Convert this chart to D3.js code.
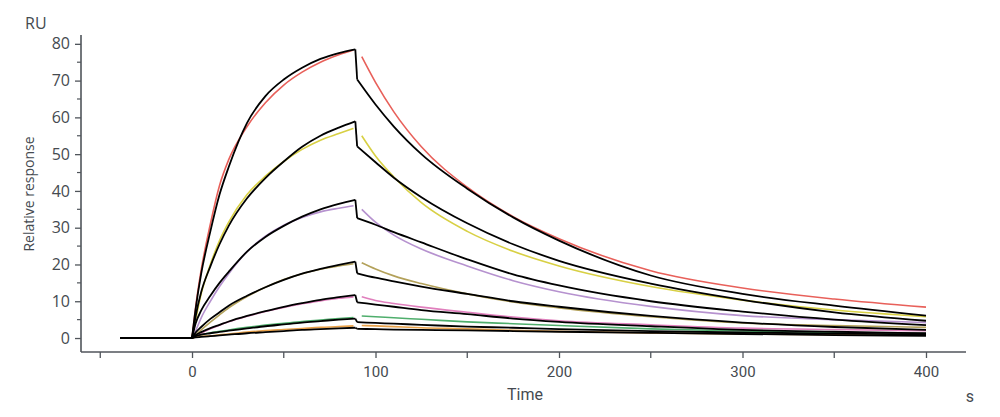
<!DOCTYPE html>
<html>
<head>
<meta charset="utf-8">
<script src="https://cdn.jsdelivr.net/npm/d3@7"></script>
<style>
  body { margin: 0; background: #fff; }
  svg { display: block; }
</style>
</head>
<body>
<svg id="chart" width="1000" height="417"></svg>
<script>
// time grids (s)
const tBase = [-39, 0];
const tFitAssoc = [0, 2, 5, 10, 15, 20, 30, 40, 50, 60, 70, 80, 89];
const tFitDiss = [90, 100, 110, 125, 150, 175, 200, 250, 300, 350, 400];
const tDataAssoc = [0, 2, 5, 10, 15, 20, 30, 40, 50, 60, 70, 80, 88];
const tDataDiss = [92.5, 100, 110, 125, 150, 175, 200, 250, 300, 350, 400];

// fitted curves (black), RU
const fit1Assoc = [0, 8, 17.5, 29, 39, 46.5, 58.5, 65.8, 70.3, 73.5, 75.9, 77.5, 78.5];
const fit1Diss = [70.3, 63.5, 57.5, 50, 40.6, 32.8, 26.5, 17, 12, 8.8, 6.1];
const fit2Assoc = [0, 6, 12.5, 19.5, 25.5, 30.5, 38, 43.5, 48, 52, 55, 57.2, 58.9];
const fit2Diss = [52.1, 47.8, 43.6, 38.3, 31.2, 25.5, 21, 14.8, 10.4, 7, 4.7];
const fit3Assoc = [0, 4, 7.5, 11.5, 15, 18, 23.5, 27.5, 30.5, 33, 35, 36.5, 37.6];
const fit3Diss = [32.6, 30.8, 28.8, 26, 21.4, 17.3, 14.3, 10, 7.2, 5, 3.5];
const fit4Assoc = [0, 1.5, 3, 5.2, 7, 8.8, 11.5, 13.8, 15.8, 17.5, 18.8, 19.9, 20.8];
const fit4Diss = [17.6, 16.4, 15.4, 14, 12, 10, 8.5, 6, 4.2, 3, 2.2];
const fit5Assoc = [0, 0.8, 1.6, 2.7, 3.6, 4.5, 6, 7.3, 8.5, 9.5, 10.4, 11.1, 11.7];
const fit5Diss = [9.7, 9.1, 8.5, 7.6, 6.5, 5.3, 4.4, 3.2, 2.2, 1.7, 1.3];
const fit6Assoc = [0, 0.5, 0.9, 1.3, 1.7, 2, 2.6, 3.2, 3.7, 4.2, 4.6, 5, 5.3];
const fit6Diss = [4.3, 4.1, 3.9, 3.6, 3.1, 2.8, 2.4, 1.9, 1.5, 1.2, 1.0];
const fit7Assoc = [0, 0.2, 0.3, 0.5, 0.7, 0.9, 1.3, 1.6, 1.9, 2.2, 2.4, 2.6, 2.8];
const fit7Diss = [2.5, 2.4, 2.3, 2.2, 2.1, 1.9, 1.7, 1.4, 1.1, 0.8, 0.6];

// measured curves (coloured), RU
const redAssoc = [0, 8.5, 18.5, 31, 41.5, 48.5, 57.5, 64, 68.8, 72.3, 75, 77, 78.3];
const redDiss = [76.5, 69.5, 61.5, 52, 41, 33, 27, 18.3, 13.6, 10.6, 8.4];
const yellowAssoc = [0, 5, 12, 20, 26.5, 31.5, 39, 44, 48, 51.3, 53.8, 55.6, 57];
const yellowDiss = [55, 49.5, 43.8, 36.8, 29, 23.6, 19.6, 14, 10.3, 7.6, 5.8];
const purpleAssoc = [0, 2, 5.5, 10, 14, 17.5, 23.5, 27.7, 30.7, 32.8, 34.3, 35.3, 36];
const purpleDiss = [35, 31.5, 28, 24.2, 19.6, 15.6, 12.6, 8.6, 6.1, 5, 4.2];
const oliveAssoc = [0, 0.8, 2.2, 4.3, 6.3, 8.2, 11.3, 13.8, 15.9, 17.5, 18.7, 19.6, 20.2];
const oliveDiss = [20.5, 18.8, 16.9, 14.8, 12, 9.8, 8.2, 5.8, 4.1, 3.4, 2.9];
const pinkAssoc = [0, 0.5, 1.3, 2.5, 3.5, 4.4, 5.9, 7.2, 8.3, 9.3, 10.1, 10.8, 11.2];
const pinkDiss = [11.2, 10.2, 9.4, 8.4, 7, 5.7, 4.7, 3.6, 2.7, 2.3, 2.0];
const greenAssoc = [0, 0.4, 0.9, 1.4, 1.8, 2.2, 2.9, 3.5, 4, 4.5, 4.9, 5.3, 5.6];
const greenDiss = [6, 5.8, 5.5, 5.1, 4.4, 3.9, 3.4, 2.5, 1.9, 1.5, 1.2];
const orangeAssoc = [0, 0.3, 0.5, 0.6, 0.9, 1.1, 1.6, 2, 2.3, 2.6, 2.9, 3.1, 3.3];
const orangeDiss = [3.4, 3.3, 3.1, 2.8, 2.5, 2.1, 1.8, 1.4, 1.1, 0.9, 0.8];

const xTicks = [0, 100, 200, 300, 400];
const yTicks = [0, 10, 20, 30, 40, 50, 60, 70, 80];

var measured = [
    {color: "#e8605a", assoc: redAssoc, diss: redDiss},
    {color: "#d8d044", assoc: yellowAssoc, diss: yellowDiss},
    {color: "#b692cf", assoc: purpleAssoc, diss: purpleDiss},
    {color: "#b3a15a", assoc: oliveAssoc, diss: oliveDiss},
    {color: "#e07fbd", assoc: pinkAssoc, diss: pinkDiss},
    {color: "#4fae6c", assoc: greenAssoc, diss: greenDiss},
    {color: "#e9a24a", assoc: orangeAssoc, diss: orangeDiss}
]
var fits = [
    {assoc: fit1Assoc, diss: fit1Diss},
    {assoc: fit2Assoc, diss: fit2Diss},
    {assoc: fit3Assoc, diss: fit3Diss},
    {assoc: fit4Assoc, diss: fit4Diss},
    {assoc: fit5Assoc, diss: fit5Diss},
    {assoc: fit6Assoc, diss: fit6Diss},
    {assoc: fit7Assoc, diss: fit7Diss}
]

var dimensions = {
    width: 1000,
    height: 417,
    margin: {top: 35, bottom: 65, right: 34, left: 81}
}

var svg = d3.select("#chart")

var xScale = d3.scaleLinear()
               .domain([-60.5, 421.8])
               .range([dimensions.margin.left, dimensions.width - dimensions.margin.right])

var yScale = d3.scaleLinear()
               .domain([-3.8, 82.4])
               .range([dimensions.height - dimensions.margin.bottom, dimensions.margin.top])

var smooth = d3.line()
               .x(d => xScale(d[0]))
               .y(d => yScale(d[1]))
               .curve(d3.curveMonotoneX)
var straight = d3.line()
                 .x(d => xScale(d[0]))
                 .y(d => yScale(d[1]))

function zipT(ts, vs) { return ts.map((t, i) => [t, vs[i]]) }

// measured data
var dataG = svg.append("g")
measured.forEach(s => {
    dataG.append("path")
         .attr("d", straight(zipT(tBase, [0, 0])))
         .attr("stroke", s.color).attr("stroke-width", 1.6).attr("fill", "none")
    dataG.append("path")
         .attr("d", smooth(zipT(tDataAssoc, s.assoc)))
         .attr("stroke", s.color).attr("stroke-width", 1.6).attr("fill", "none")
    dataG.append("path")
         .attr("d", smooth(zipT(tDataDiss, s.diss)))
         .attr("stroke", s.color).attr("stroke-width", 1.6).attr("fill", "none")
})

// fitted curves on top
var fitG = svg.append("g")
fits.forEach(f => {
    var a = zipT(tFitAssoc, f.assoc)
    var d = zipT(tFitDiss, f.diss)
    fitG.append("path")
        .attr("d", straight(zipT(tBase, [0, 0])))
        .attr("stroke", "#000").attr("stroke-width", 1.8).attr("fill", "none")
    fitG.append("path")
        .attr("d", smooth(a))
        .attr("stroke", "#000").attr("stroke-width", 1.8).attr("fill", "none")
    fitG.append("path")
        .attr("d", straight([a[a.length - 1], d[0]]))
        .attr("stroke", "#000").attr("stroke-width", 1.8).attr("fill", "none")
    fitG.append("path")
        .attr("d", smooth(d))
        .attr("stroke", "#000").attr("stroke-width", 1.8).attr("fill", "none")
})

// axes
var axisColor = "#50555b"
var yAxisGen = d3.axisLeft(yScale).tickValues(yTicks).tickSize(6).tickPadding(5).tickSizeOuter(0)
var yAxis = svg.append("g")
               .attr("transform", `translate(${dimensions.margin.left},0)`)
               .call(yAxisGen)
yAxis.select(".domain").remove()
yAxis.selectAll(".tick line").attr("stroke", axisColor).attr("stroke-width", 1.3)
yAxis.selectAll(".tick text")
     .attr("fill", "#454a50")
     .style("font-size", "16px")
     .style("font-family", "Open Sans")
yAxis.selectAll(".minor")
     .data([5, 15, 25, 35, 45, 55, 65, 75])
     .enter()
     .append("line")
     .attr("x1", -4).attr("x2", 0)
     .attr("y1", d => yScale(d)).attr("y2", d => yScale(d))
     .attr("stroke", axisColor).attr("stroke-width", 1.2)

var xAxisGen = d3.axisBottom(xScale).tickValues(xTicks).tickSize(6).tickPadding(8).tickSizeOuter(0)
var xAxis = svg.append("g")
               .attr("transform", `translate(0,${dimensions.height - dimensions.margin.bottom})`)
               .call(xAxisGen)
xAxis.select(".domain").remove()
xAxis.selectAll(".tick line").attr("stroke", axisColor).attr("stroke-width", 1.3)
xAxis.selectAll(".tick text")
     .attr("fill", "#454a50")
     .style("font-size", "15px")
     .style("font-family", "Roboto")
xAxis.selectAll(".minor")
     .data([-50, 50, 150, 250, 350])
     .enter()
     .append("line")
     .attr("x1", d => xScale(d)).attr("x2", d => xScale(d))
     .attr("y1", 0).attr("y2", 6)
     .attr("stroke", axisColor).attr("stroke-width", 1.3)

// axis lines
svg.append("line")
   .attr("x1", dimensions.margin.left).attr("x2", dimensions.margin.left)
   .attr("y1", dimensions.margin.top).attr("y2", dimensions.height - dimensions.margin.bottom)
   .attr("stroke", axisColor).attr("stroke-width", 1.6)
svg.append("line")
   .attr("x1", dimensions.margin.left).attr("x2", dimensions.width - dimensions.margin.right)
   .attr("y1", dimensions.height - dimensions.margin.bottom).attr("y2", dimensions.height - dimensions.margin.bottom)
   .attr("stroke", axisColor).attr("stroke-width", 1.6)

// labels
svg.append("text")
   .text("RU")
   .attr("x", 25).attr("y", 29)
   .attr("fill", "#454a50")
   .style("font-size", "16px")
   .style("font-family", "Open Sans")

svg.append("text")
   .text("Relative response")
   .attr("transform", "rotate(-90)")
   .attr("x", -194).attr("y", 34)
   .attr("text-anchor", "middle")
   .attr("fill", "#454a50")
   .style("font-size", "14px")
   .style("font-family", "Open Sans")

svg.append("text")
   .text("Time")
   .attr("x", 525).attr("y", 400)
   .attr("text-anchor", "middle")
   .attr("fill", "#454a50")
   .style("font-size", "16px")
   .style("font-family", "Roboto")

svg.append("text")
   .text("s")
   .attr("x", 970).attr("y", 402)
   .attr("text-anchor", "middle")
   .attr("fill", "#454a50")
   .style("font-size", "16px")
   .style("font-family", "Roboto")
</script>
</body>
</html>
